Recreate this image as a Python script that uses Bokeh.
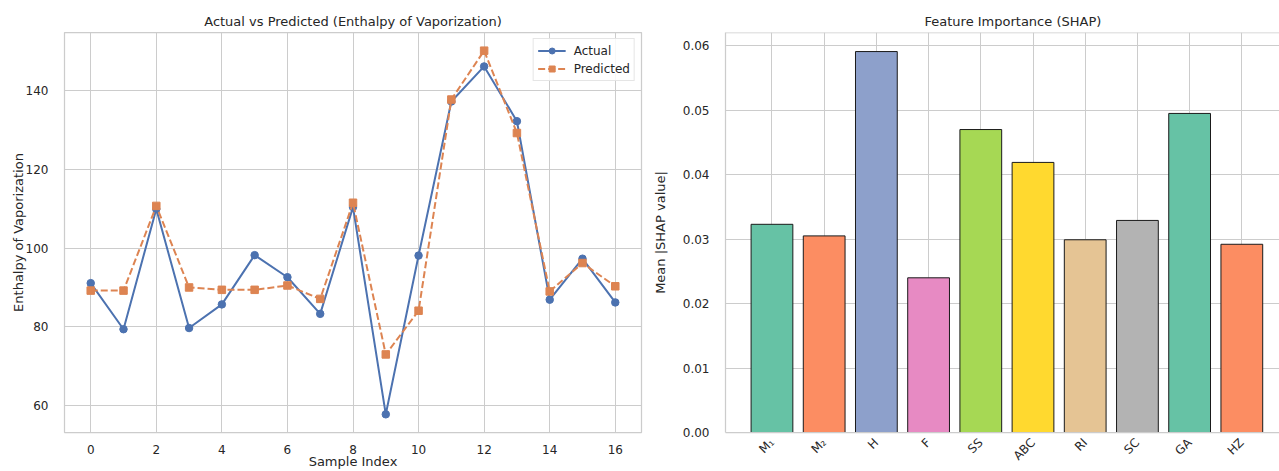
import math
from bokeh.plotting import figure
from bokeh.layouts import row
from bokeh.models import FixedTicker, NumeralTickFormatter, Range1d, Span
from bokeh.embed import file_html
from bokeh.resources import INLINE

# ---------------- data ----------------
sample_index = list(range(17))
actual = [91.1, 79.4, 109.9, 79.7, 85.7, 98.2, 92.6, 83.3, 110.4, 57.8,
          98.1, 137.2, 146.1, 132.2, 86.9, 97.3, 86.2]
predicted = [89.2, 89.2, 110.7, 90.0, 89.4, 89.4, 90.5, 87.1, 111.5, 73.0,
             84.1, 137.7, 150.1, 129.2, 89.0, 96.2, 90.3]
left_x_ticks = [0, 2, 4, 6, 8, 10, 12, 14, 16]
left_y_ticks = [60, 80, 100, 120, 140]

features = ["M\u2081", "M\u2082", "H", "F", "SS", "ABC", "RI", "SC", "GA", "HZ"]
shap_values = [0.0323, 0.0305, 0.0591, 0.0240, 0.0470, 0.0419, 0.0299,
               0.0329, 0.0495, 0.0292]
bar_colors = ["#66c2a5", "#fc8d62", "#8da0cb", "#e78ac3", "#a6d854",
              "#ffd92f", "#e5c494", "#b3b3b3", "#66c2a5", "#fc8d62"]
right_y_ticks = [0.0, 0.01, 0.02, 0.03, 0.04, 0.05, 0.06]

FONT = "DejaVu Sans"
TXT = "#262626"
GRID = "#cccccc"
BLUE = "#4c72b0"
ORANGE = "#dd8452"

TOTAL_W, TOTAL_H = 1279, 471
TOP, BOTTOM = 32, 38


def style(p):
    p.background_fill_color = "white"
    p.border_fill_color = "white"
    p.title.text_font = FONT
    p.title.text_font_size = "13px"
    p.title.text_font_style = "normal"
    p.title.text_color = TXT
    p.title.standoff = 8
    for ax in (p.xaxis[0], p.yaxis[0]):
        ax.axis_line_color = None
        ax.major_tick_line_color = None
        ax.minor_tick_line_color = None
        ax.major_label_text_font = FONT
        ax.major_label_text_font_size = "12px"
        ax.major_label_text_color = TXT
        ax.axis_label_text_font = FONT
        ax.axis_label_text_font_size = "13px"
        ax.axis_label_text_font_style = "normal"
        ax.axis_label_text_color = TXT
    for g in (p.xgrid[0], p.ygrid[0]):
        g.grid_line_color = GRID
        g.grid_line_width = 1


# ---------------- left: actual vs predicted ----------------
allv = actual + predicted
ymin, ymax = min(allv), max(allv)
xs0, xs1 = min(sample_index), max(sample_index)
xpad = 0.05 * (xs1 - xs0)
ypad = 0.05 * (ymax - ymin)

W1 = 649
p1 = figure(width=W1, height=TOTAL_H, output_backend="svg", toolbar_location=None,
            title="Actual vs Predicted (Enthalpy of Vaporization)",
            x_range=Range1d(xs0 - xpad, xs1 + xpad),
            y_range=Range1d(ymin - ypad, ymax + ypad),
            min_border_left=64, min_border_right=8, min_border_top=TOP,
            min_border_bottom=BOTTOM)
style(p1)
p1.title.align = "center"
p1.outline_line_color = GRID
p1.outline_line_width = 1.25
p1.xaxis.ticker = FixedTicker(ticks=left_x_ticks)
p1.yaxis.ticker = FixedTicker(ticks=left_y_ticks)
p1.xaxis.major_label_standoff = 6
p1.xaxis.axis_label = "Sample Index"
p1.xaxis.axis_label_standoff = -3
p1.yaxis.major_label_standoff = 10
p1.yaxis.axis_label = "Enthalpy of Vaporization"
p1.yaxis.axis_label_standoff = -3

p1.line(sample_index, actual, line_color=BLUE, line_width=2, legend_label="Actual")
p1.scatter(sample_index, actual, marker="circle", size=7.5, fill_color=BLUE,
           line_color=BLUE, legend_label="Actual")
p1.line(sample_index, predicted, line_color=ORANGE, line_width=2,
        line_dash="7 3", legend_label="Predicted")
p1.scatter(sample_index, predicted, marker="square", size=7.5, fill_color=ORANGE,
           line_color=ORANGE, legend_label="Predicted")

lg = p1.legend[0]
lg.location = "top_right"
lg.margin = 6
lg.padding = 4
lg.spacing = 3
lg.label_height = 15
lg.glyph_height = 15
lg.glyph_width = 28
lg.label_standoff = 8
lg.label_text_font = FONT
lg.label_text_font_size = "12px"
lg.label_text_color = TXT
lg.border_line_color = GRID
lg.border_line_width = 1
lg.background_fill_alpha = 0.85

# ---------------- right: feature importance ----------------
bx = list(range(len(features)))
bar_w = 0.8
full_lo = -bar_w / 2 - 0.05 * (len(features) - 1 + bar_w)
full_hi = len(features) - 1 + bar_w / 2 + 0.05 * (len(features) - 1 + bar_w)
W2 = TOTAL_W - W1
B2L = 63
full_frame_w = 576.0
visible_w = float(W2 - B2L)
x_end = full_lo + (full_hi - full_lo) * visible_w / full_frame_w

p2 = figure(width=W2, height=TOTAL_H, output_backend="svg", toolbar_location=None,
            title="Feature Importance (SHAP)",
            x_range=Range1d(full_lo, x_end),
            y_range=Range1d(0, max(shap_values) * 1.05),
            min_border_left=B2L, min_border_right=0, min_border_top=TOP,
            min_border_bottom=BOTTOM)
style(p2)
p2.title.align = "left"
p2.title.offset = 199
p2.outline_line_color = None
p2.xaxis.axis_line_color = GRID
p2.xaxis.axis_line_width = 1.25
p2.yaxis.axis_line_color = GRID
p2.yaxis.axis_line_width = 1.25
p2.add_layout(Span(location=p2.y_range.end, dimension="width",
                   line_color=GRID, line_width=1.25))
p2.xaxis.ticker = FixedTicker(ticks=bx)
p2.xaxis.major_label_overrides = {i: f for i, f in zip(bx, features)}
p2.xaxis.major_label_orientation = math.pi / 4
p2.xaxis.major_label_standoff = 2
p2.yaxis.ticker = FixedTicker(ticks=right_y_ticks)
p2.yaxis.formatter = NumeralTickFormatter(format="0.00")
p2.yaxis.major_label_standoff = 10
p2.yaxis.axis_label = "Mean |SHAP value|"
p2.yaxis.axis_label_standoff = 12

p2.vbar(x=bx, top=shap_values, width=bar_w, bottom=0, fill_color=bar_colors,
        line_color="#1a1a1a", line_width=1)

layout = row(p1, p2)
open("out.html", "w").write(file_html(layout, INLINE))
